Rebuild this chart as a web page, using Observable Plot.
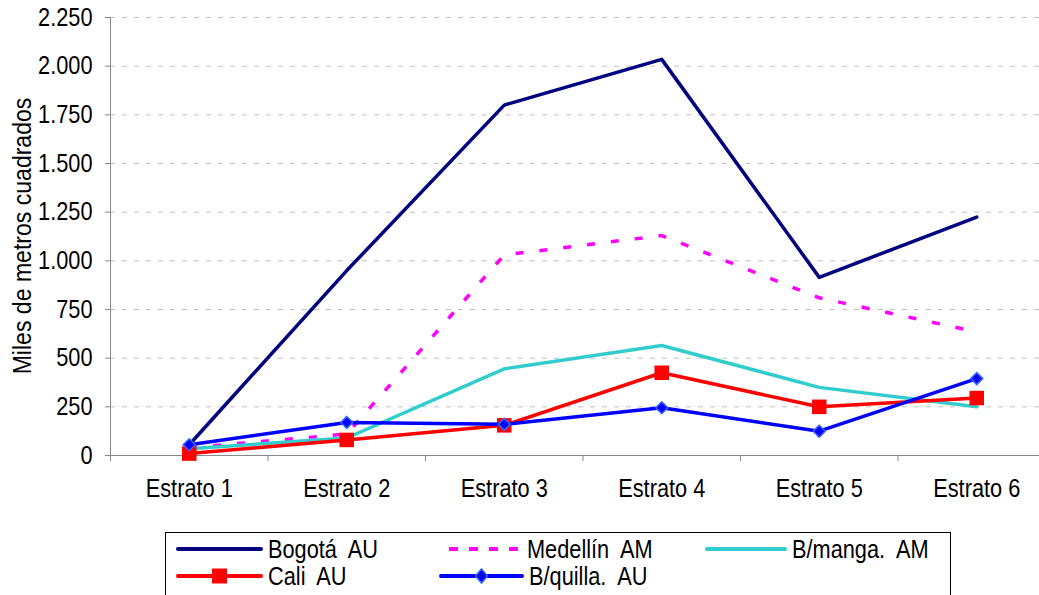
<!DOCTYPE html>
<html>
<head>
<meta charset="utf-8">
<script src="https://cdn.jsdelivr.net/npm/d3@7"></script>
<script src="https://cdn.jsdelivr.net/npm/@observablehq/plot@0.6"></script>
<style>
  html, body { margin: 0; padding: 0; background: white; overflow: hidden; }
  #wrap { position: relative; width: 1039px; height: 595px; overflow: hidden; font-family: "Liberation Sans", Arial, sans-serif; }
  #legend { position: absolute; left: 165px; top: 532px; width: 786px; height: 80px; border: 1px solid #000; box-sizing: border-box; background: white; }
  .item { position: absolute; height: 24px; display: flex; align-items: center; }
  .item svg { display: block; }
  .lab { display: inline-block; font-size: 25px; white-space: pre; transform: scaleX(0.87); transform-origin: left center; margin-left: 5px; color: #000; line-height: 24px; }
</style>
</head>
<body>
<div id="wrap"><div id="chart"></div><div id="legend"></div></div>
<script>
// ---- data ----
const estratos = ["Estrato 1", "Estrato 2", "Estrato 3", "Estrato 4", "Estrato 5", "Estrato 6"];
const seriesNames = ["Bogotá  AU", "Medellín  AM", "B/manga.  AM", "Cali  AU", "B/quilla.  AU"];
const bogota   = [55, 950, 1800, 2035, 915, 1225];
const medellin = [40, 110, 1030, 1130, 810, 635];
const bmanga   = [35, 90, 445, 565, 350, 250];
const cali     = [10, 80, 155, 425, 250, 295];
const bquilla  = [55, 170, 160, 245, 125, 395];
const yTicks = [0, 250, 500, 750, 1000, 1250, 1500, 1750, 2000, 2250];
const colors = ["#000080", "#ff00ff", "#33cccc", "#ff0000", "#0000ff"];

const seriesValues = [bogota, medellin, bmanga, cali, bquilla];
const rowsOf = (vals, name) => estratos.map((e, i) => ({x: i + 1, y: vals[i], serie: name}));
const rows = seriesValues.map((v, k) => rowsOf(v, seriesNames[k]));
const boundaries = d3.range(0, estratos.length + 1).map(i => i + 0.5);
const catTicks = estratos.map((e, i) => i + 1);

const fmt = d3.formatLocale({decimal: ",", thousands: ".", grouping: [3], currency: ["$", ""]}).format(",");

const chart = Plot.plot({
  width: 1039,
  height: 520,
  marginTop: 17,
  marginBottom: 65,
  marginLeft: 110,
  marginRight: 0,
  style: {fontFamily: "Liberation Sans, Arial, sans-serif", fontSize: "25px", overflow: "hidden", background: "white", color: "#000"},
  x: {domain: [0.5, estratos.length + 0.5], range: [110, 1055]},
  y: {domain: [0, 2250]},
  marks: [
    Plot.gridY(yTicks.slice(1), {stroke: "#c0c0c0", strokeOpacity: 1, strokeDasharray: "5,7"}),
    Plot.ruleY([0], {stroke: "#888"}),
    Plot.ruleX([0.5], {y1: 0, y2: 2250, stroke: "#888"}),
    Plot.axisY({ticks: yTicks, tickSize: 5, tickPadding: 13, tickFormat: fmt, label: null, stroke: "#888", fill: "#000"}),
    Plot.axisX({ticks: boundaries, tickSize: 6, tickFormat: () => "", label: null, stroke: "#888"}),
    Plot.axisX({ticks: catTicks, tickSize: 0, tickPadding: 24, tickFormat: i => estratos[i - 1], label: null, fill: "#000"}),
    Plot.line(rows[0], {x: "x", y: "y", stroke: colors[0], strokeWidth: 3.5}),
    Plot.line(rows[1], {x: "x", y: "y", stroke: colors[1], strokeWidth: 3.5, strokeDasharray: "8,16", strokeLinecap: "butt"}),
    Plot.line(rows[2], {x: "x", y: "y", stroke: colors[2], strokeWidth: 3.5}),
    Plot.line(rows[3], {x: "x", y: "y", stroke: colors[3], strokeWidth: 3.5}),
    Plot.dot(rows[3], {x: "x", y: "y", symbol: "square", r: 8.2, fill: colors[3], stroke: "none"}),
    Plot.line(rows[4], {x: "x", y: "y", stroke: colors[4], strokeWidth: 3.5}),
    Plot.dot(rows[4], {x: "x", y: "y", symbol: "diamond2", r: 5.4, fill: colors[4], stroke: "#3366ff", strokeWidth: 1.5})
  ]
});
document.getElementById("chart").appendChild(chart);

// narrow the text like the reference
const svg = chart.tagName.toLowerCase() === "svg" ? chart : chart.querySelector("svg");
const NS = "http://www.w3.org/2000/svg";
const yl = document.createElementNS(NS, "text");
yl.textContent = "Miles de metros cuadrados";
yl.setAttribute("text-anchor", "middle");
yl.setAttribute("dy", "0.35em");
yl.setAttribute("fill", "#000");
yl.setAttribute("font-size", "26.5px");
yl.setAttribute("transform", "translate(22,236) rotate(-90)");
svg.appendChild(yl);
svg.querySelectorAll("text").forEach(t => {
  const tr = t.getAttribute("transform") || "";
  t.setAttribute("transform", `${tr} scale(0.87,1)`);
});

// legend
const legend = document.getElementById("legend");
const layout = [[10, 4], [281, 4], [539, 4], [10, 31], [273, 31]];
const swW = [87, 75, 82, 87, 85];
seriesNames.forEach((name, k) => {
  const it = document.createElement("div");
  it.className = "item";
  it.style.left = layout[k][0] + "px";
  it.style.top = layout[k][1] + "px";
  const w = swW[k];
  let sym = "";
  if (k === 3) sym = `<rect x="${w/2 - 7.5}" y="4.5" width="15" height="15" fill="${colors[3]}"/>`;
  if (k === 4) sym = `<path d="M${w/2},5 L${w/2 + 6},12 L${w/2},19 L${w/2 - 6},12Z" fill="${colors[4]}" stroke="#3366ff" stroke-width="1.5"/>`;
  const dash = k === 1 ? `stroke-dasharray="9,11" stroke-linecap="butt"` : `stroke-linecap="round"`;
  it.innerHTML = `<svg width="${w}" height="24"><line x1="2" x2="${w - 2}" y1="12" y2="12" stroke="${colors[k]}" stroke-width="4" ${dash}/>${sym}</svg><span class="lab">${name}</span>`;
  legend.appendChild(it);
});
</script>
</body>
</html>
